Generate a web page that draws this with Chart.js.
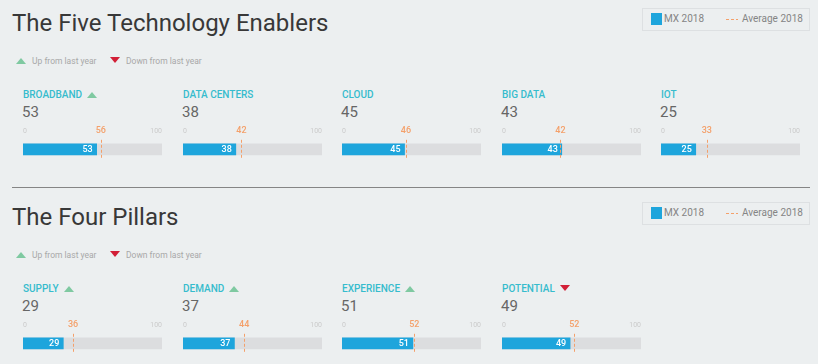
<!DOCTYPE html>
<html>
<head>
<meta charset="utf-8">
<script src="https://cdn.jsdelivr.net/npm/chart.js@4.4.0/dist/chart.umd.min.js"></script>
<style>
  html, body { margin: 0; padding: 0; }
  body { width: 818px; height: 364px; background: #eceff0; position: relative; overflow: hidden; font-family: Roboto, "Noto Sans", sans-serif; }
  .abs { position: absolute; white-space: nowrap; }
  .title { font-size: 24px; line-height: 24px; color: #383838; left: 12px; }
  .legbox { left: 642px; width: 166px; height: 21px; border: 1px solid #dde0e2; }
  .legbox .sq { position: absolute; left: 8px; top: 4px; width: 11px; height: 12px; background: #1ea5dc; }
  .legbox .t { position: absolute; top: 4px; font-size: 10px; line-height: 12px; color: #858585; }
  .legbox .dash { position: absolute; left: 83px; top: 10px; width: 12px; height: 1px; background: repeating-linear-gradient(90deg, #f4a06a 0 3px, transparent 3px 5px); }
  .trend { font-size: 8.5px; line-height: 10px; color: #a8a8a8; }
  .up { width: 0; height: 0; border-left: 5px solid transparent; border-right: 5px solid transparent; border-bottom: 6px solid #7fc9a1; }
  .down { width: 0; height: 0; border-left: 5px solid transparent; border-right: 5px solid transparent; border-top: 6px solid #d21f37; }
  .name { font-size: 10px; line-height: 12px; color: #36bccd; font-weight: 500; }
  .val { font-size: 15px; line-height: 16px; color: #666; }
  .sep { left: 12px; width: 798px; height: 0; border-top: 1px solid #858585; top: 187px; }
  canvas { position: absolute; }
</style>
</head>
<body>
<script>
// data
const enablerNames = ['BROADBAND', 'DATA CENTERS', 'CLOUD', 'BIG DATA', 'IOT'];
const enablerValues = [53, 38, 45, 43, 25];
const enablerAverages = [56, 42, 46, 42, 33];
const enablerTrend = ['up', null, null, null, null];

const pillarNames = ['SUPPLY', 'DEMAND', 'EXPERIENCE', 'POTENTIAL'];
const pillarValues = [29, 37, 51, 49];
const pillarAverages = [36, 44, 52, 52];
const pillarTrend = ['up', 'up', 'up', 'down'];

const scaleTicks = [0, 100];
const seriesLabels = ['MX 2018', 'Average 2018'];

const BLUE = '#1ea5dc';
const TRACK = '#dcdddf';
const ORANGE = '#f4a06a';

function el(cls, css, text) {
    const d = document.createElement('div');
    d.className = 'abs ' + cls;
    Object.assign(d.style, css);
    if (text != null) d.textContent = text;
    document.body.appendChild(d);
    return d;
}

// dashed avg line + value label inside the bar
const markerPlugin = {
    id: 'markers',
    afterDatasetsDraw(chart, args, opts) {
        const { ctx, chartArea, scales: { x } } = chart;
        const bar = chart.getDatasetMeta(0).data[0];
        ctx.save();
        ctx.fillStyle = '#fff';
        ctx.font = '500 9px Roboto';
        ctx.textAlign = 'right';
        ctx.textBaseline = 'middle';
        ctx.fillText(String(opts.value), bar.x - 4, bar.y + 0.5);

        const px = Math.round(x.getPixelForValue(opts.avg)) + 0.5;
        ctx.strokeStyle = ORANGE;
        ctx.lineWidth = 1;
        ctx.setLineDash([3, 2]);
        ctx.beginPath();
        ctx.moveTo(px, chartArea.top);
        ctx.lineTo(px, chartArea.bottom);
        ctx.stroke();
        ctx.restore();
    }
};

function renderPanel(left, top, name, value, avg, trend) {
    const nameEl = el('name', { left: left + 'px', top: (top + 89) + 'px' }, name);
    if (trend) {
        const w = nameEl.getBoundingClientRect().width;
        el(trend, { left: (left + w + 5) + 'px', top: (top + (trend === 'up' ? 92 : 91)) + 'px' });
    }
    el('val', { left: (left - 1) + 'px', top: (top + 104) + 'px' }, String(value));

    const canvas = document.createElement('canvas');
    canvas.width = 147;
    canvas.height = 44;
    canvas.style.left = (left - 4) + 'px';
    canvas.style.top = (top + 117) + 'px';
    document.body.appendChild(canvas);

    new Chart(canvas, {
        type: 'bar',
        data: {
            labels: [name],
            datasets: [
                { data: [value], backgroundColor: BLUE, grouped: false, barThickness: 11, borderWidth: 0 },
                { data: [scaleTicks[1]], backgroundColor: TRACK, grouped: false, barThickness: 11, borderWidth: 0 }
            ]
        },
        options: {
            indexAxis: 'y',
            responsive: false,
            animation: false,
            events: [],
            layout: { padding: { left: 4, right: 4, top: 4, bottom: 2 } },
            plugins: {
                legend: { display: false },
                tooltip: { enabled: false },
                markers: { value: value, avg: avg }
            },
            scales: {
                x: {
                    position: 'top',
                    min: scaleTicks[0],
                    max: scaleTicks[1],
                    afterBuildTicks: s => { s.ticks = [scaleTicks[0], avg, scaleTicks[1]].map(v => ({ value: v })); },
                    grid: { display: false, drawTicks: false },
                    border: { display: false },
                    ticks: {
                        align: 'inner',
                        autoSkip: false,
                        maxRotation: 0,
                        padding: 4,
                        color: c => (c.index === 1 ? ORANGE : '#cbcbcb'),
                        font: c => (c.index === 1 ? { size: 9, weight: '500', family: 'Roboto' } : { size: 7, family: 'Roboto' })
                    }
                },
                y: { display: false }
            }
        },
        plugins: [markerPlugin]
    });
}

function renderSection(top, title, names, values, avgs, trends) {
    el('title', { top: (top + 11) + 'px' }, title);

    const box = el('legbox', { top: (top + 8) + 'px' });
    const sq = document.createElement('div'); sq.className = 'sq'; box.appendChild(sq);
    const t1 = document.createElement('div'); t1.className = 't'; t1.style.left = '21px'; t1.textContent = seriesLabels[0]; box.appendChild(t1);
    const dash = document.createElement('div'); dash.className = 'dash'; box.appendChild(dash);
    const t2 = document.createElement('div'); t2.className = 't'; t2.style.left = '99px'; t2.textContent = seriesLabels[1]; box.appendChild(t2);

    el('up', { left: '16px', top: (top + 58) + 'px' });
    el('trend', { left: '32px', top: (top + 56) + 'px' }, 'Up from last year');
    el('down', { left: '110px', top: (top + 57) + 'px' });
    el('trend', { left: '126px', top: (top + 56) + 'px' }, 'Down from last year');

    names.forEach((n, i) => {
        renderPanel(Math.round(23 + i * 159.5), top, n, values[i], avgs[i], trends[i]);
    });
}

renderSection(0, 'The Five Technology Enablers', enablerNames, enablerValues, enablerAverages, enablerTrend);
el('sep', {});
renderSection(194, 'The Four Pillars', pillarNames, pillarValues, pillarAverages, pillarTrend);
</script>
</body>
</html>
